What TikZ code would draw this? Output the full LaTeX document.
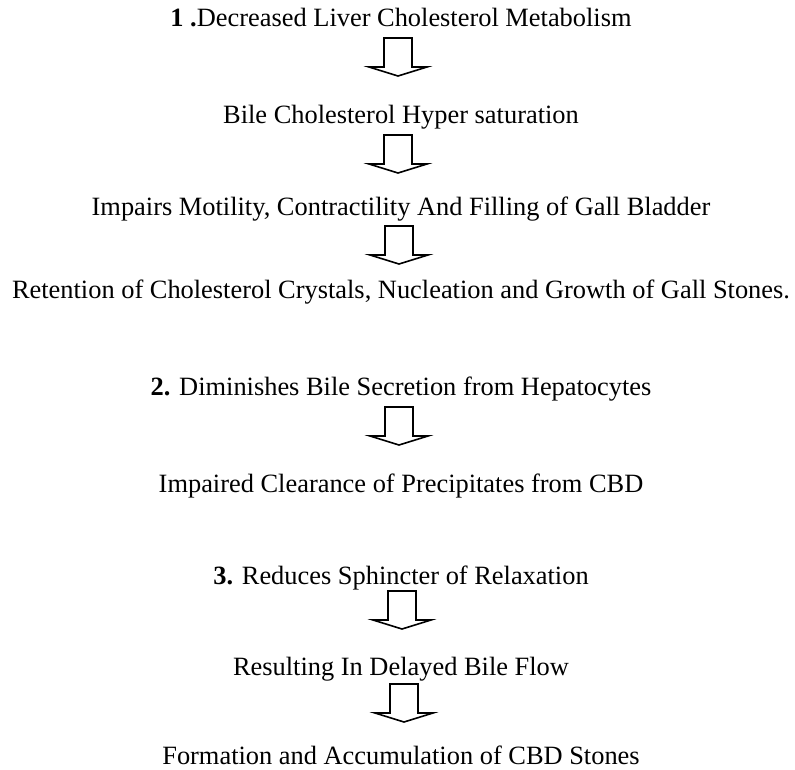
\documentclass[tikz,border=0pt]{standalone}
\usepackage{fontspec}
\setmainfont{Liberation Serif}
\begin{document}
\begin{tikzpicture}[x=1pt,y=-1pt,
  txt/.style={anchor=base,inner sep=0pt,font=\fontsize{26.4}{30}\selectfont},
  barrow/.pic={\draw[line width=1.6pt,line join=miter,fill=white]
     (-14,0) -- (14,0) -- (14,29) -- (29,29) -- (0,38) -- (-29,29) -- (-14,29) -- cycle;}]
\useasboundingbox (0,0) rectangle (795,769);
\node[txt] (l1) at (401,26) {\textbf{1 .}Decreased Liver Cholesterol Metabolism};
\node[txt] (l2) at (401,123) {Bile Cholesterol Hyper saturation};
\node[txt] (l3) at (401,215) {Impairs Motility, Contractility And Filling of Gall Bladder};
\node[txt] (l4) at (401,298) {Retention of Cholesterol Crystals, Nucleation and Growth of Gall Stones.};
\node[txt] (l5) at (401,395) {\textbf{2.} Diminishes Bile Secretion from Hepatocytes};
\node[txt] (l6) at (401,492) {Impaired Clearance of Precipitates from CBD};
\node[txt] (l7) at (401,584) {\textbf{3.} Reduces Sphincter of Relaxation};
\node[txt] (l8) at (401,675) {Resulting In Delayed Bile Flow};
\node[txt] (l9) at (401,764) {Formation and Accumulation of CBD Stones};
\pic at (398,38) {barrow};
\pic at (398,135) {barrow};
\pic at (399,226) {barrow};
\pic at (399,407) {barrow};
\pic at (402,591) {barrow};
\pic at (404,684) {barrow};
\end{tikzpicture}
\end{document}
